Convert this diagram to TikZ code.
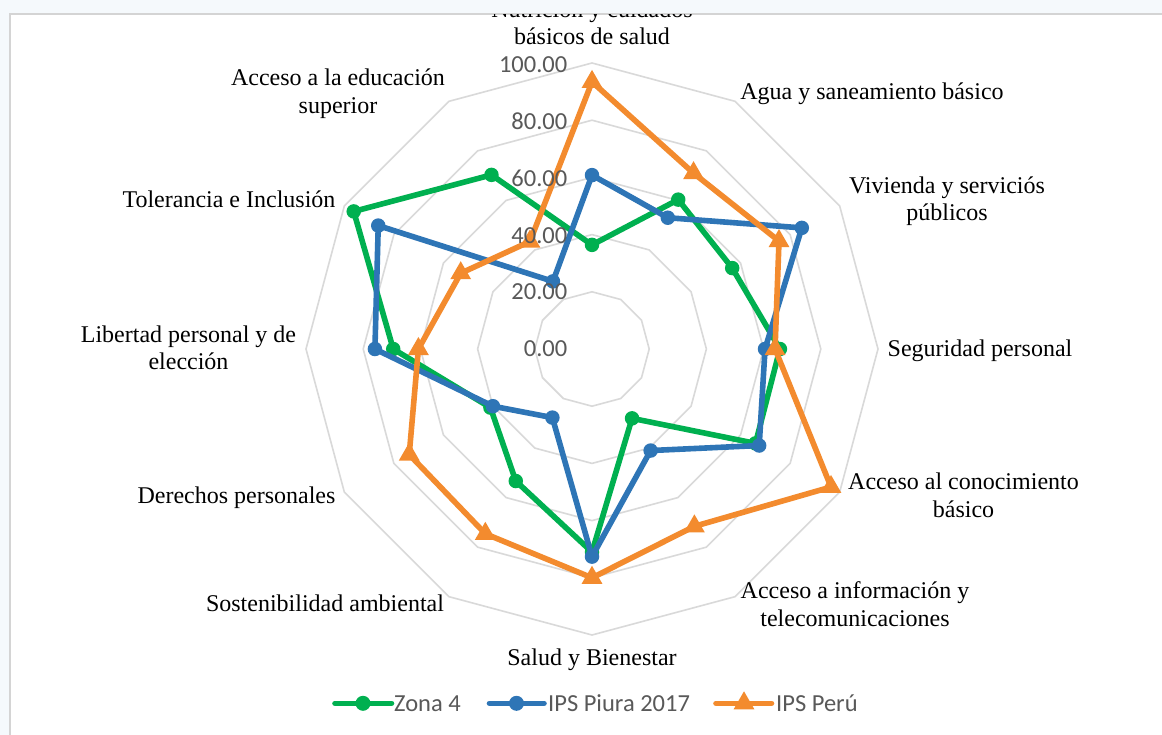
\documentclass[tikz,border=0pt]{standalone}
\usepackage{fontspec}
\setmainfont{Liberation Serif}
\newfontfamily\calfont{Carlito}
\usetikzlibrary{shapes.geometric}
\definecolor{zgreen}{HTML}{00B050}
\definecolor{pblue}{HTML}{2E75B6}
\definecolor{porange}{HTML}{F38B2E}
\definecolor{gridc}{HTML}{D9D9D9}
\definecolor{ticktext}{HTML}{595959}
\definecolor{outerbg}{HTML}{F5F9FC}
\definecolor{framec}{HTML}{D4D4D4}
\begin{document}
\begin{tikzpicture}[x=1pt,y=-1pt,
  gridline/.style={draw=gridc,line width=1.6pt},
  serline/.style={line width=5.6pt,line join=round,line cap=round},
  dotmark/.style={circle,inner sep=0pt,minimum size=14.5pt},
  trimark/.style={regular polygon,regular polygon sides=3,inner sep=0pt,minimum size=24pt},
  axlabel/.style={font=\fontsize{24}{28}\selectfont,anchor=base,inner sep=0pt},
  ticklabel/.style={font=\calfont\fontsize{24.5}{28}\selectfont,text=ticktext,anchor=base east,inner sep=0pt},
  legtext/.style={font=\calfont\fontsize{24.5}{28}\selectfont,text=ticktext,anchor=base west,inner sep=0pt}
]
\useasboundingbox (0,0) rectangle (1162,735);
\fill[outerbg] (0,0) rectangle (1162,735);
\fill[white] (10,14) rectangle (1170,745);
\draw[framec,line width=2pt] (10,745) -- (10,14) -- (1170,14);
\begin{scope}
\clip (11,15) rectangle (1162,735);
% grid rings
\begin{scope}[shift={(592,349)}]
\foreach \r in {1,...,5} {
  \draw[gridline] (-90:{\r*57.2}) \foreach \k in {1,...,11} { -- ({30*\k-90}:{\r*57.2}) } -- cycle;
}
\foreach \v [count=\k from 0] in {36.4,60.3,56.6,65.7,66,28,71,53.3,41,69.5,96.2,70.3}
  \coordinate (z\k) at ({30*\k-90}:{\v*2.86});
\foreach \v [count=\k from 0] in {60.8,53,84.7,60.5,67.5,41,72.6,27.7,40,75.9,86.3,27.3}
  \coordinate (b\k) at ({30*\k-90}:{\v*2.86});
\foreach \v [count=\k from 0] in {93.4,71,75.5,64,96.5,71.6,80,74.6,73.8,60.7,53,43.4}
  \coordinate (o\k) at ({30*\k-90}:{\v*2.86});
\end{scope}
% Zona 4
\draw[serline,zgreen] (z0) \foreach \k in {1,...,11}{ -- (z\k)} -- cycle;
\foreach \k in {0,...,11} \node[dotmark,fill=zgreen] (zm\k) at (z\k) {};
% IPS Piura 2017
\draw[serline,pblue] (b0) \foreach \k in {1,...,11}{ -- (b\k)} -- cycle;
\foreach \k in {0,...,11} \node[dotmark,fill=pblue] (bm\k) at (b\k) {};
% IPS Peru
\draw[serline,porange] (o0) \foreach \k in {1,...,11}{ -- (o\k)} -- cycle;
\foreach \k in {0,...,11} \node[trimark,fill=porange] (om\k) at (o\k) {};
% tick labels
\foreach \v in {0,20,40,60,80,100}
  \node[ticklabel] (t\v) at (567.5,{349-\v*2.84+7.8}) {\v.00};
% axis labels
\node[axlabel] (l0a) at (592,17.4) {Nutrición y cuidados};
\node[axlabel] (l0b) at (592,45) {básicos de salud};
\node[axlabel] (l1) at (872,99.5) {Agua y saneamiento básico};
\node[axlabel] (l2a) at (947,194) {Vivienda y serviciós};
\node[axlabel] (l2b) at (947,221) {públicos};
\node[axlabel] (l3) at (980,356.5) {Seguridad personal};
\node[axlabel] (l4a) at (963.5,489.5) {Acceso al conocimiento};
\node[axlabel] (l4b) at (963.5,517) {básico};
\node[axlabel] (l5a) at (855,598.5) {Acceso a información y};
\node[axlabel] (l5b) at (855,626) {telecomunicaciones};
\node[axlabel] (l6) at (592,665.7) {Salud y Bienestar};
\node[axlabel] (l7) at (325,611.7) {Sostenibilidad ambiental};
\node[axlabel] (l8) at (236.5,503) {Derechos personales};
\node[axlabel] (l9a) at (188.5,342.5) {Libertad personal y de};
\node[axlabel] (l9b) at (188.5,369) {elección};
\node[axlabel] (l10) at (229,207.3) {Tolerancia e Inclusión};
\node[axlabel] (l11a) at (338,86) {Acceso a la educación};
\node[axlabel] (l11b) at (338,113.5) {superior};
% legend
\coordinate (g1a) at (335,703.3); \coordinate (g1b) at (391.5,703.3);
\draw[serline,zgreen] (g1a) -- (g1b);
\node[dotmark,fill=zgreen,minimum size=15pt] (g1m) at (363,703.3) {};
\node[legtext] (g1t) at (394,711.7) {Zona 4};
\coordinate (g2a) at (489.5,703.3); \coordinate (g2b) at (544,703.3);
\draw[serline,pblue] (g2a) -- (g2b);
\node[dotmark,fill=pblue,minimum size=15pt] (g2m) at (516.5,703.3) {};
\node[legtext] (g2t) at (548,711.7) {IPS Piura 2017};
\coordinate (g3a) at (716,703.3); \coordinate (g3b) at (771.5,703.3);
\draw[serline,porange] (g3a) -- (g3b);
\node[trimark,fill=porange] (g3m) at (744,703.3) {};
\node[legtext] (g3t) at (776,711.7) {IPS Perú};
\end{scope}
\end{tikzpicture}
\end{document}
